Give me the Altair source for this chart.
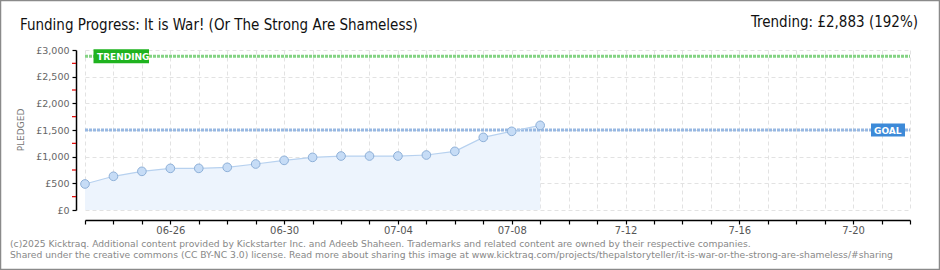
import altair as alt
import pandas as pd

# ---------------- data ----------------
dates = ["2025-06-23", "2025-06-24", "2025-06-25", "2025-06-26", "2025-06-27",
         "2025-06-28", "2025-06-29", "2025-06-30", "2025-07-01", "2025-07-02",
         "2025-07-03", "2025-07-04", "2025-07-05", "2025-07-06", "2025-07-07",
         "2025-07-08", "2025-07-09"]
pledged = [488, 632, 725, 781, 781, 800, 862, 931, 987, 1012,
           1012, 1012, 1031, 1100, 1362, 1475, 1587]
goal = 1500
trending = 2883

domain_start = "2025-06-23"
domain_end = "2025-07-22"
label_dates = ["2025-06-26", "2025-06-30", "2025-07-04", "2025-07-08",
               "2025-07-12", "2025-07-16", "2025-07-20"]
label_texts = ["06-26", "06-30", "07-04", "07-08", "7-12", "7-16", "7-20"]
y_ticks = [0, 500, 1000, 1500, 2000, 2500, 3000]
y_minor = [250, 750, 1250, 1750, 2250, 2750]

title_text = "Funding Progress: It is War! (Or The Strong Are Shameless)"
trend_text = "Trending:  £2,883 (192%)"
footer1 = ("(c)2025 Kicktraq. Additional content provided by Kickstarter Inc. and Adeeb Shaheen. "
           "Trademarks and related content are owned by their respective companies.")
footer2 = ("Shared under the creative commons (CC BY-NC 3.0) license. Read more about sharing this image at "
           "www.kicktraq.com/projects/thepalstoryteller/it-is-war-or-the-strong-are-shameless/#sharing")


def ms(s):
    return int(pd.Timestamp(s, tz="UTC").value // 10**6)


tick_days = [ms(d.strftime("%Y-%m-%d")) for d in pd.date_range(domain_start, domain_end, freq="D")]

ld = "[" + ",".join("'%s'" % d for d in label_dates) + "]"
lt = "[" + ",".join("'%s'" % t for t in label_texts) + "]"
label_expr = ("indexof(%s, utcFormat(datum.value, '%%Y-%%m-%%d')) >= 0 ? "
              "%s[indexof(%s, utcFormat(datum.value, '%%Y-%%m-%%d'))] : ''") % (ld, lt, ld)

W, H = 825, 160

df = pd.DataFrame({"date": [ms(d) for d in dates], "pledged": pledged})

xscale = alt.Scale(type="utc", domain=[ms(domain_start), ms(domain_end)])
yscale = alt.Scale(domain=[0, 3000], nice=False, zero=True)

xaxis = alt.Axis(values=tick_days, labelExpr=label_expr, title=None, offset=10,
                 grid=True, gridColor="#e2e2e2", gridDash=[4, 3], gridWidth=1,
                 domainColor="#000000", domainWidth=1.5, tickColor="#000000",
                 tickSize=4, tickWidth=1.2, labelPadding=1, labelFontSize=10,
                 labelColor="#555555", labelFont="DejaVu Sans", labelOverlap=False,
                 labelFlush=False)
yaxis = alt.Axis(values=y_ticks, labelExpr="'£' + format(datum.value, ',')", title=None,
                 offset=9, grid=True, gridColor="#e2e2e2", gridDash=[4, 3], gridWidth=1,
                 domainColor="#000000", domainWidth=1.5, tickColor="#000000",
                 tickSize=4, tickWidth=1.2, labelPadding=3, labelFontSize=9.5,
                 labelColor="#666666", labelFont="DejaVu Sans", labelOverlap=False,
                 labelFlush=False, labelBound=False, labelSeparation=0)


def xv(field):
    return alt.X(field, scale=xscale, axis=xaxis)


def yv(field):
    return alt.Y(field, scale=yscale, axis=yaxis)


base = alt.Chart(df)
X = xv("date:T")
Y = yv("pledged:Q")

area = base.mark_area(color="#edf4fd", opacity=1, interpolate="linear").encode(x=X, y=Y)
line = base.mark_line(color="#b7d1ef", strokeWidth=1.2).encode(x=X, y=Y)
points = base.mark_point(filled=True, shape="circle", size=75, fill="#c6dcf6",
                         stroke="#8eb0d8", strokeWidth=1, opacity=1).encode(x=X, y=Y)

ref = pd.DataFrame({"v": [goal, trending], "kind": ["goal", "trend"]})
goal_line = alt.Chart(ref[ref.kind == "goal"]).mark_rule(
    color="#97b8e2", strokeWidth=3, strokeDash=[3, 1]).encode(
    y=yv("v:Q"), x=alt.value(0), x2=alt.value(W))
trend_line = alt.Chart(ref[ref.kind == "trend"]).mark_rule(
    color="#84d384", strokeWidth=3, strokeDash=[3, 1]).encode(
    y=yv("v:Q"), x=alt.value(0), x2=alt.value(W))

trend_box = alt.Chart(ref[ref.kind == "trend"]).mark_rule(
    color="#1fb31f", strokeWidth=14, strokeCap="butt").encode(
    y=yv("v:Q"), x=alt.value(8.5), x2=alt.value(64))
trend_lbl = alt.Chart(ref[ref.kind == "trend"].assign(t="TRENDING")).mark_text(
    color="white", fontSize=9, fontWeight="bold", font="DejaVu Sans", align="left",
    baseline="middle", dy=0.5).encode(
    y=yv("v:Q"), x=alt.value(12), text="t:N")
goal_box = alt.Chart(ref[ref.kind == "goal"]).mark_rule(
    color="#3d8ad8", strokeWidth=13, strokeCap="butt").encode(
    y=yv("v:Q"), x=alt.value(786), x2=alt.value(820))
goal_lbl = alt.Chart(ref[ref.kind == "goal"].assign(t="GOAL")).mark_text(
    color="white", fontSize=9, fontWeight="bold", font="DejaVu Sans", align="left",
    baseline="middle", dy=0.5).encode(
    y=yv("v:Q"), x=alt.value(789), text="t:N")

minor = alt.Chart(pd.DataFrame({"m": y_minor})).mark_rule(
    color="#e00000", strokeWidth=1.2).encode(
    y=yv("m:Q"), x=alt.value(-13), x2=alt.value(-9))


def text_mark(txt, x, y, **kw):
    return alt.Chart(pd.DataFrame({"t": [txt]})).mark_text(**kw).encode(
        x=alt.value(x), y=alt.value(y), text="t:N")


title = text_mark(title_text, -65, -25, align="left", baseline="middle", fontSize=15,
                  font="DejaVu Sans Condensed, sans-serif", color="#111111")
trend_t = text_mark(trend_text, 833, -28, align="right", baseline="middle", fontSize=15,
                    font="DejaVu Sans Condensed, sans-serif", color="#111111")
pledged_t = text_mark("PLEDGED", -64, 80, align="center", baseline="middle", fontSize=9,
                      angle=270, font="DejaVu Sans", color="#777777")
f1 = text_mark(footer1, -75, 193.5, align="left", baseline="middle", fontSize=9.2,
               font="DejaVu Sans", color="#888888")
f2 = text_mark(footer2, -75, 205, align="left", baseline="middle", fontSize=9.2,
               font="DejaVu Sans", color="#888888")

border = alt.Chart(pd.DataFrame({"a": [0]})).mark_rect(
    fill=None, stroke="#8a8a8a", strokeWidth=1.5, fillOpacity=0).encode(
    x=alt.value(-84.5), x2=alt.value(854.5), y=alt.value(-49.5), y2=alt.value(219.5))

chart = alt.layer(
    area, goal_line, trend_line, line, points, trend_box, trend_lbl, goal_box, goal_lbl,
    minor, title, trend_t, pledged_t, f1, f2, border
).properties(
    width=W, height=H,
    autosize=alt.AutoSizeParams(type="none"),
    padding={"left": 85, "top": 50, "right": 30, "bottom": 60},
    background="white",
).configure_view(stroke=None)

chart.save("out.html", embed_options={"renderer": "svg", "actions": False})
